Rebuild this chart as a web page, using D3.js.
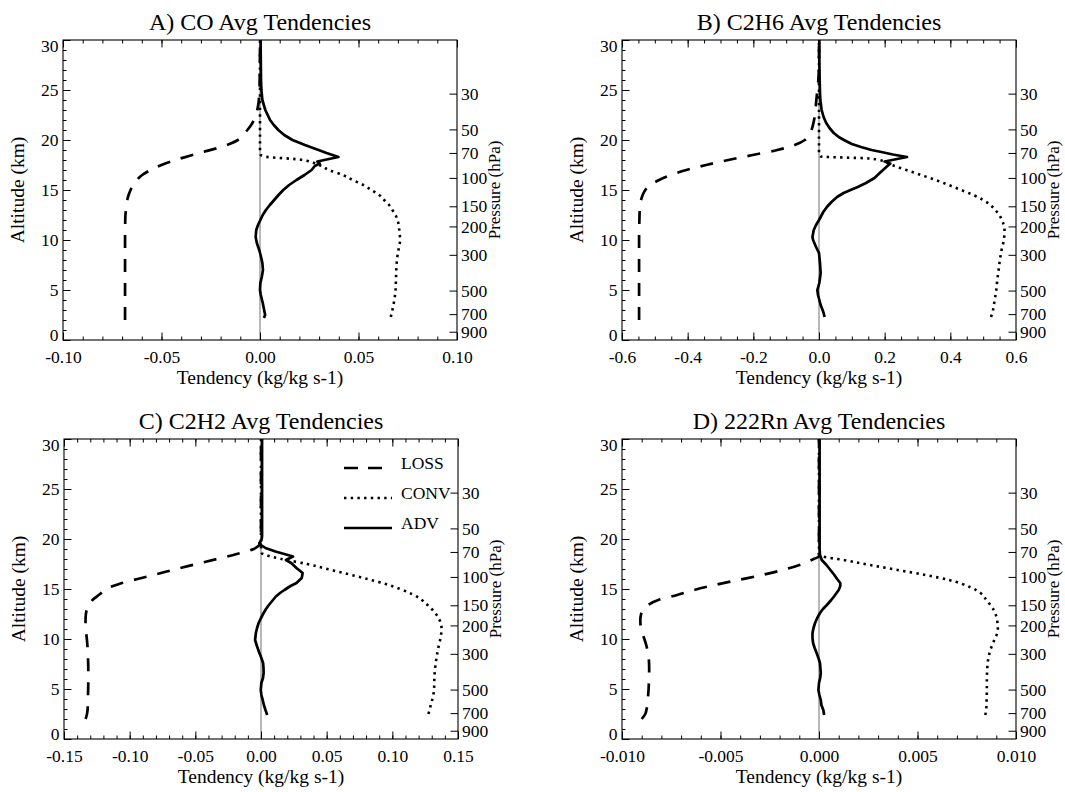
<!DOCTYPE html>
<html>
<head>
<meta charset="utf-8">
<script src="https://cdn.jsdelivr.net/npm/d3@7"></script>
<style>
  body { margin: 0; background: #fff; }
  text { font-family: "Liberation Serif", "Times New Roman", serif; fill: #000; }
</style>
</head>
<body>
<svg id="chart" width="1065" height="792"></svg>
<script>
// ---- data: [altitude km, tendency] ----
const coLoss = [[2.0,-0.0685],[4,-0.0685],[6,-0.0685],[8,-0.0685],[10,-0.0685],[12,-0.0684],[13,-0.0681],[14,-0.0674],[14.5,-0.0667],[15,-0.0657],[15.5,-0.0644],[16,-0.0625],[16.5,-0.0598],[17,-0.0555],[17.5,-0.0500],[18,-0.0430],[18.4,-0.0360],[18.8,-0.0290],[19.2,-0.0215],[19.6,-0.0155],[20,-0.0112],[20.5,-0.0088],[21,-0.0064],[21.5,-0.0045],[22,-0.0031],[22.7,-0.0018],[23.5,-0.0009],[24.5,-0.0004],[25.5,-0.0002],[27,-0.0001],[30,0]];
const coConv = [[2.3,0.0664],[3,0.0672],[4,0.0682],[5,0.0688],[6,0.0690],[7,0.0692],[8,0.0695],[9,0.0703],[10,0.0711],[11,0.0707],[12,0.0698],[12.5,0.0688],[13,0.0672],[13.5,0.0655],[14,0.0630],[14.5,0.0605],[15,0.0565],[15.5,0.0525],[16,0.0470],[16.5,0.0420],[17,0.0350],[17.5,0.0300],[18.05,0.0200],[18.35,0.0020],[18.6,0],[20,0],[22,0],[24,0],[26,0],[28,0],[30,0]];
const coAdv = [[2.2,0.0020],[2.5,0.0026],[3,0.0021],[3.7,0.0014],[4.5,0.0004],[5,0.0000],[5.7,0.0002],[6.3,0.0009],[7,0.0015],[7.7,0.0012],[8.5,0.0003],[9,-0.0004],[9.7,-0.0016],[10.3,-0.0022],[11,-0.0019],[11.5,-0.0010],[12,0.0002],[12.5,0.0014],[13,0.0030],[13.5,0.0050],[14,0.0072],[14.5,0.0094],[15,0.0118],[15.5,0.0148],[16,0.0185],[16.5,0.0226],[17,0.0262],[17.4,0.0278],[17.65,0.0303],[17.85,0.0291],[18.3,0.0398],[18.7,0.0338],[19.0,0.0297],[19.5,0.0228],[20,0.0165],[20.5,0.0123],[21,0.0093],[21.5,0.0070],[22,0.0051],[23,0.0027],[24,0.0012],[25,0.0007],[26,0.0005],[28,0.0004],[30,0.0003]];

const c2h6Loss = [[2.0,-0.548],[4,-0.548],[6,-0.548],[8,-0.548],[10,-0.548],[12,-0.547],[13,-0.546],[14,-0.542],[14.5,-0.537],[15,-0.529],[15.5,-0.514],[16,-0.487],[16.5,-0.452],[17,-0.404],[17.5,-0.344],[18,-0.276],[18.5,-0.202],[19,-0.127],[19.5,-0.074],[20,-0.043],[20.5,-0.031],[21,-0.023],[22,-0.015],[23,-0.011],[24,-0.008],[25,-0.005],[26,-0.002],[28,0],[30,0]];
const c2h6Conv = [[2.3,0.524],[3,0.530],[4,0.535],[5,0.540],[6,0.543],[7,0.547],[8,0.551],[9,0.556],[10,0.563],[11,0.565],[12,0.557],[12.5,0.549],[13,0.537],[13.5,0.522],[14,0.500],[14.5,0.470],[15,0.433],[15.5,0.395],[16,0.355],[16.5,0.311],[17,0.266],[17.5,0.222],[18.0,0.182],[18.15,0.155],[18.35,0.005],[18.6,0],[20,0],[22,0],[24,0],[26,0],[28,0],[30,0]];
const c2h6Adv = [[2.3,0.017],[2.7,0.014],[3,0.011],[3.5,0.005],[4,0.001],[4.5,-0.003],[5,-0.005],[5.7,0.001],[6.7,0.005],[7.7,0.003],[8.7,0],[9.3,-0.009],[10,-0.018],[10.3,-0.020],[11,-0.016],[11.5,-0.009],[12,0.0],[12.3,0.005],[12.8,0.013],[13.3,0.024],[13.8,0.038],[14.3,0.055],[14.7,0.075],[15.0,0.096],[15.3,0.118],[15.7,0.143],[16.2,0.169],[16.7,0.185],[17.0,0.195],[17.3,0.205],[17.65,0.217],[17.85,0.200],[18.3,0.268],[18.55,0.225],[18.8,0.190],[19.0,0.160],[19.3,0.128],[19.6,0.100],[20,0.076],[20.3,0.060],[20.7,0.045],[21.2,0.032],[21.7,0.022],[22.3,0.014],[23,0.008],[24,0.004],[24.7,0.003],[26,0.002],[28,0.001],[30,0.001]];

const c2h2Loss = [[2.0,-0.1335],[2.5,-0.1325],[3,-0.1320],[4,-0.1318],[5,-0.1316],[6,-0.1315],[7,-0.1315],[8,-0.1317],[9,-0.1320],[10,-0.1326],[11,-0.1334],[12,-0.1336],[13,-0.1326],[13.5,-0.1308],[14,-0.1275],[14.5,-0.1225],[15,-0.1180],[15.5,-0.1080],[16,-0.0940],[16.5,-0.0790],[17,-0.0645],[17.5,-0.0490],[18,-0.0335],[18.5,-0.0185],[19,-0.0055],[19.3,-0.0020],[19.7,0],[22,0],[25,0],[30,0]];
const c2h2Conv = [[2.5,0.1275],[3,0.1285],[4,0.1305],[5,0.1318],[6,0.1320],[7,0.1325],[8,0.1335],[9,0.1348],[10,0.1365],[11,0.1375],[12,0.1356],[12.5,0.1332],[13,0.1300],[13.5,0.1260],[14,0.1215],[14.5,0.1148],[15,0.1060],[15.5,0.0950],[16,0.0810],[16.5,0.0660],[17,0.0505],[17.5,0.0350],[18,0.0155],[18.3,0.0060],[18.6,0.0005],[19,0],[22,0],[25,0],[30,0]];
const c2h2Adv = [[2.4,0.0047],[2.9,0.0034],[3.4,0.0022],[3.9,0.0013],[4.4,0.0003],[4.9,-0.0002],[5.6,0.0003],[6.1,0.0015],[6.6,0.0020],[7.1,0.0019],[7.6,0.0016],[8.2,0.0],[8.7,-0.0015],[9.3,-0.0031],[9.9,-0.0045],[10.6,-0.0039],[11.1,-0.0030],[11.6,-0.0018],[12.1,0.0],[12.6,0.0020],[13.0,0.0038],[13.4,0.0060],[13.8,0.0085],[14.25,0.0113],[14.6,0.0145],[14.9,0.0178],[15.3,0.0225],[15.6,0.0270],[16.1,0.0310],[16.6,0.0317],[17.1,0.0270],[17.6,0.0230],[17.9,0.0190],[18.25,0.0244],[18.4,0.0204],[18.75,0.0110],[19.1,0.0034],[19.4,0.0000],[19.6,-0.0013],[19.9,0.0003],[20.25,0.0008],[22,0.0008],[25,0.0008],[30,0.0008]];

const rnLoss = [[2.0,-0.0090],[2.5,-0.00882],[3,-0.00875],[4,-0.00869],[5,-0.00865],[6,-0.00863],[7,-0.00862],[8,-0.00864],[8.7,-0.00869],[9.4,-0.00877],[10.2,-0.00890],[10.9,-0.00902],[11.9,-0.00907],[12.5,-0.00903],[12.9,-0.00894],[13.4,-0.00868],[13.9,-0.00816],[14.4,-0.00720],[14.9,-0.00634],[15.4,-0.00530],[15.9,-0.00410],[16.4,-0.00290],[16.9,-0.00185],[17.4,-0.00099],[17.9,-0.00038],[18.3,0],[20,0],[25,0],[30,0]];
const rnConv = [[2.4,0.00844],[3,0.00849],[4,0.00851],[5,0.00852],[6,0.00852],[7,0.00854],[7.6,0.00856],[8.3,0.00862],[8.9,0.00870],[9.9,0.00890],[10.9,0.00908],[11.9,0.00904],[12.9,0.00887],[13.9,0.00850],[14.6,0.00820],[15.2,0.00766],[15.9,0.00660],[16.4,0.00540],[16.9,0.00400],[17.4,0.00260],[17.9,0.00126],[18.25,0.00020],[18.5,0],[20,0],[25,0],[30,0]];
const rnAdv = [[2.4,0.00026],[2.9,0.00022],[3.4,0.00012],[3.9,0.00009],[4.4,0.00002],[4.9,-0.00003],[5.6,0.0],[6.1,0.00006],[6.6,0.00009],[7.1,0.00007],[7.6,0.00005],[8.1,-0.00003],[8.6,-0.00012],[9.1,-0.00022],[9.6,-0.00030],[10.1,-0.00033],[10.6,-0.00033],[11.1,-0.00028],[11.6,-0.00020],[12.1,-0.00009],[12.6,0.00005],[13.0,0.00020],[13.4,0.00040],[13.9,0.00062],[14.3,0.00078],[14.9,0.00100],[15.3,0.00108],[15.6,0.00108],[16.0,0.00092],[16.4,0.00078],[16.7,0.00066],[17.1,0.00050],[17.4,0.00038],[17.9,0.00014],[18.4,0.00005],[19,0.00003],[22,0.00003],[26,0.00003],[30,0.00003]];

const panelTitles = ["A) CO Avg Tendencies", "B) C2H6 Avg Tendencies", "C) C2H2 Avg Tendencies", "D) 222Rn Avg Tendencies"];
const xDomains = [[-0.1, 0.1], [-0.6, 0.6], [-0.15, 0.15], [-0.01, 0.01]];
const xMajorTicks = [
  [-0.1, -0.05, 0, 0.05, 0.1],
  [-0.6, -0.4, -0.2, 0, 0.2, 0.4, 0.6],
  [-0.15, -0.1, -0.05, 0, 0.05, 0.1, 0.15],
  [-0.01, -0.005, 0, 0.005, 0.01]
];
const xMinorPerMajor = [5, 4, 5, 5];
const xDecimals = [2, 1, 2, 3];
const altTicks = [0, 5, 10, 15, 20, 25, 30];
const pressureTicks = [30, 50, 70, 100, 150, 200, 300, 500, 700, 900];
const seriesNames = ["LOSS", "CONV", "ADV"];
const panelSeries = [
  [coLoss, coConv, coAdv],
  [c2h6Loss, c2h6Conv, c2h6Adv],
  [c2h2Loss, c2h2Conv, c2h2Adv],
  [rnLoss, rnConv, rnAdv]
];

// ---- layout ----
const svg = d3.select("#chart");
const W = 394, H = 300;
const origins = [[63, 40], [622, 40], [64, 439], [622, 439]];
const fontTick = 17.5;

const y = d3.scaleLinear().domain([0, 30]).range([H, 0]);
// pressure axis: z = 7 ln(1013/p)
const pScale = d3.scaleLog().domain([1013, 1013 * Math.exp(-30 / 7)]).range([H, 0]);

const styles = [
  { dash: "13,11", width: 2.7, curve: d3.curveMonotoneY },
  { dash: "2.4,4.3", width: 2.6, curve: d3.curveMonotoneY },
  { dash: null, width: 2.7, curve: d3.curveLinear }
];

function styleAxis(g, size) {
  g.attr("font-family", null).attr("font-size", size);
  g.select(".domain").remove();
  g.selectAll(".tick line").attr("stroke", "#000").attr("stroke-width", 1);
}

panelTitles.forEach((title, i) => {
  const g = svg.append("g").attr("transform", `translate(${origins[i][0]},${origins[i][1]})`);
  const x = d3.scaleLinear().domain(xDomains[i]).range([0, W]);
  const major = xMajorTicks[i];
  const step = (major[1] - major[0]) / xMinorPerMajor[i];
  const nMinor = Math.round((xDomains[i][1] - xDomains[i][0]) / step);
  const minor = d3.range(nMinor + 1).map(k => xDomains[i][0] + k * step);
  const fmt = v => (Math.abs(v) < 1e-12 ? 0 : v).toFixed(xDecimals[i]);

  // zero line
  g.append("line")
    .attr("x1", x(0)).attr("x2", x(0)).attr("y1", 0).attr("y2", H)
    .attr("stroke", "#707070").attr("stroke-width", 1);

  // bottom axis
  g.append("g").attr("transform", `translate(0,${H})`)
    .call(d3.axisBottom(x).tickValues(minor).tickSizeInner(-3.5).tickSizeOuter(0).tickFormat(""))
    .call(s => styleAxis(s, fontTick));
  g.append("g").attr("transform", `translate(0,${H})`)
    .call(d3.axisBottom(x).tickValues(major).tickSizeInner(-7.5).tickSizeOuter(0).tickPadding(11).tickFormat(fmt))
    .call(s => styleAxis(s, fontTick));
  // top axis
  g.append("g")
    .call(d3.axisTop(x).tickValues(minor).tickSizeInner(-3.5).tickSizeOuter(0).tickFormat(""))
    .call(s => styleAxis(s, fontTick));
  g.append("g")
    .call(d3.axisTop(x).tickValues(major).tickSizeInner(-7.5).tickSizeOuter(0).tickFormat(""))
    .call(s => styleAxis(s, fontTick));
  // left axis
  g.append("g")
    .call(d3.axisLeft(y).tickValues(d3.range(0, 31)).tickSizeInner(-3.5).tickSizeOuter(0).tickFormat(""))
    .call(s => styleAxis(s, fontTick));
  const la = g.append("g")
    .call(d3.axisLeft(y).tickValues(altTicks).tickSizeInner(-7.5).tickSizeOuter(0).tickPadding(4.5).tickFormat(d3.format("d")))
    .call(s => styleAxis(s, fontTick));
  la.selectAll(".tick text").attr("y", d => d === 30 ? 5.5 : d === 0 ? -5.5 : 0);
  // right pressure axis
  g.append("g").attr("transform", `translate(${W},0)`)
    .call(d3.axisRight(pScale).tickValues(pressureTicks).tickSizeInner(-7.5).tickSizeOuter(0).tickPadding(4).tickFormat(d3.format("d")))
    .call(s => styleAxis(s, fontTick));

  // frame
  g.append("rect").attr("width", W).attr("height", H)
    .attr("fill", "none").attr("stroke", "#000").attr("stroke-width", 1.1);

  // curves
  panelSeries[i].forEach((data, k) => {
    const line = d3.line().x(d => x(d[1])).y(d => y(d[0])).curve(styles[k].curve);
    g.append("path").datum(data)
      .attr("d", line)
      .attr("fill", "none").attr("stroke", "#000")
      .attr("stroke-width", styles[k].width)
      .attr("stroke-dasharray", styles[k].dash)
      .attr("stroke-linejoin", "round");
  });

  // titles and labels
  g.append("text").attr("x", W / 2).attr("y", -10)
    .attr("text-anchor", "middle").attr("font-size", 24).text(title);
  g.append("text").attr("x", W / 2).attr("y", H + 44)
    .attr("text-anchor", "middle").attr("font-size", 19.5).text("Tendency (kg/kg s-1)");
  g.append("text").attr("transform", `translate(-39,${H / 2}) rotate(-90)`)
    .attr("text-anchor", "middle").attr("font-size", 19.5).text("Altitude (km)");
  g.append("text").attr("transform", `translate(${W + 43},${H / 2}) rotate(-90)`)
    .attr("text-anchor", "middle").attr("font-size", 17).text("Pressure (hPa)");

  // legend in panel C
  if (i === 2) {
    seriesNames.forEach((name, k) => {
      const ly = 29 + k * 30;
      g.append("line").attr("x1", 280).attr("x2", 328).attr("y1", ly).attr("y2", ly)
        .attr("stroke", "#000").attr("stroke-width", styles[k].width)
        .attr("stroke-dasharray", k === 0 ? "14,10" : styles[k].dash);
      g.append("text").attr("x", 337).attr("y", ly + 0.5)
        .attr("font-size", fontTick).text(name);
    });
  }
});
</script>
</body>
</html>
